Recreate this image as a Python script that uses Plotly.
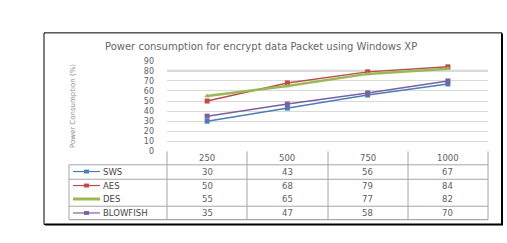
import plotly.graph_objects as go

categories = ["250", "500", "750", "1000"]
series_names = ["SWS", "AES", "DES", "BLOWFISH"]
sws = [30, 43, 56, 67]
aes = [50, 68, 79, 84]
des = [55, 65, 77, 82]
blowfish = [35, 47, 58, 70]
y_ticks = [0, 10, 20, 30, 40, 50, 60, 70, 80, 90]
title_text = "Power consumption for encrypt data Packet using Windows XP"
y_title = "Power Consumption (%)"

values = [sws, aes, des, blowfish]
colors = ["#4a7ebb", "#be4b48", "#98b954", "#7d60a0"]
symbols = ["square", "square", "triangle-up", "square"]
widths = [1.5, 1.5, 2.5, 1.5]

W, H = 507, 243
def px(x):
    return x / W
def py(y):
    return 1 - y / H

FONT = "DejaVu Sans"
GREY = "#606060"

fig = go.Figure()
for name, vals, c, s, w in zip(series_names, values, colors, symbols, widths):
    fig.add_trace(go.Scatter(
        x=categories, y=vals, name=name, mode="lines+markers",
        line=dict(color=c, width=w),
        marker=dict(symbol=s, size=5, color=c),
        showlegend=False, cliponaxis=False,
    ))

shapes = []
annotations = []

def label(x, y, text, xref="paper", size=8, color=GREY, xanchor="center", **kw):
    annotations.append(dict(x=x, xref=xref, y=y, yref="paper", text=text,
                            showarrow=False, xanchor=xanchor, yanchor="middle",
                            font=dict(family=FONT, size=size, color=color), **kw))

# outer frame
shapes.append(dict(type="rect", xref="paper", yref="paper",
                   x0=px(44), x1=px(502), y0=py(229), y1=py(30),
                   line=dict(color="black", width=1)))
shapes.append(dict(type="line", xref="paper", yref="paper",
                   x0=px(502), x1=px(502), y0=py(229), y1=py(31),
                   line=dict(color="black", width=2)))
shapes.append(dict(type="line", xref="paper", yref="paper",
                   x0=px(45), x1=px(503), y0=py(229), y1=py(229),
                   line=dict(color="black", width=2)))

# thicker gridline
shapes.append(dict(type="line", xref="paper", yref="y",
                   x0=px(167), x1=px(488), y0=80, y1=80,
                   line=dict(color="#cfcfcf", width=2), layer="below"))

# table lines
tl_col = "#a6a6a6"
col_edges = [167, 247, 328, 408, 488]
for xe in col_edges:
    shapes.append(dict(type="line", xref="paper", yref="paper",
                       x0=px(xe), x1=px(xe), y0=py(224), y1=py(153),
                       line=dict(color=tl_col, width=1)))
shapes.append(dict(type="line", xref="paper", yref="paper",
                   x0=px(69), x1=px(69), y0=py(224), y1=py(167),
                   line=dict(color=tl_col, width=1)))
for yl in [167, 182, 210, 224]:
    shapes.append(dict(type="line", xref="paper", yref="paper",
                       x0=px(69), x1=px(488), y0=py(yl), y1=py(yl),
                       line=dict(color=tl_col, width=1.2 if yl == 224 else 1)))

row_y = [174, 188.5, 202.5, 217]
# category header
for i, c in enumerate(categories):
    label(i, py(160), c, xref="x", size=8.5)
# rows
for name, vals, c, s, w, ry in zip(series_names, values, colors, symbols, widths, row_y):
    shapes.append(dict(type="line", xref="paper", yref="paper",
                       x0=px(73), x1=px(100), y0=py(ry), y1=py(ry),
                       line=dict(color=c, width=3 if name == "DES" else 1.2)))
    if name != "DES":
        shapes.append(dict(type="rect", xref="paper", yref="paper",
                           x0=px(84), x1=px(89), y0=py(ry + 2), y1=py(ry - 2),
                           fillcolor=c, line=dict(width=0)))
    label(px(101), py(ry), name, xanchor="left", color="#454545", size=8.5)
    for i, v in enumerate(vals):
        label(i, py(ry), str(v), xref="x", size=8.5)

# title
label(px(261), py(44), title_text, size=10, color="#666666")
# y title
label(px(73), py(106), y_title, size=7, color="#8c8c8c", textangle=-90)

fig.update_layout(
    width=W, height=H,
    margin=dict(l=0, r=0, t=0, b=0),
    paper_bgcolor="white", plot_bgcolor="white",
    shapes=shapes, annotations=annotations,
    xaxis=dict(domain=[px(167), px(488)], type="category",
               categoryorder="array", categoryarray=categories,
               range=[-0.5, 3.5], showticklabels=False, showgrid=False,
               zeroline=False, showline=False, ticks=""),
    yaxis=dict(domain=[py(153), py(59)], range=[0, 90],
               tickvals=y_ticks, ticktext=[str(t) for t in y_ticks],
               showgrid=True, gridcolor="#d9d9d9", gridwidth=1,
               zeroline=False, showline=False, ticks="",
               ticklabelstandoff=12,
               tickfont=dict(family=FONT, size=8, color=GREY)),
)

fig.write_html("out.html")
